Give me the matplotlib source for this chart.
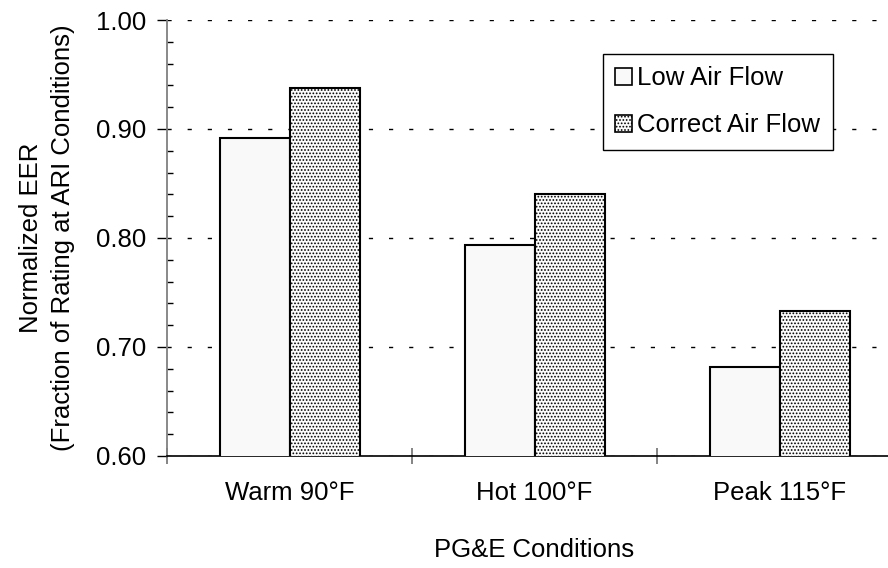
import numpy as np
import matplotlib.pyplot as plt
from matplotlib.ticker import MultipleLocator, FixedLocator, NullFormatter

plt.rcParams['font.family'] = ['Liberation Sans', 'DejaVu Sans']
plt.rcParams['lines.scale_dashes'] = False
plt.rcParams['hatch.color'] = '#b0b0b0'
plt.rcParams['hatch.linewidth'] = 0.8

conditions = ['Warm 90°F', 'Hot 100°F', 'Peak 115°F']
low_flow = [0.892, 0.794, 0.682]
correct_flow = [0.938, 0.840, 0.733]
series_names = ['Low Air Flow', 'Correct Air Flow']

FS = 18.5
W, H = 888, 568
fig = plt.figure(figsize=(W/100, H/100), dpi=100)
# plot area runs a little past the right edge of the image
ax = fig.add_axes([167/W, 1 - 456/H, (902 - 167)/W, (456 - 20)/H])

x = np.arange(len(conditions)) + 0.5
w = 1/3.5
ax.bar(x - w/2, low_flow, w, color='#f9f9f9', edgecolor='black',
       linewidth=1.5, label=series_names[0], zorder=3)
ax.bar(x + w/2, correct_flow, w, color='#fcfcfc', edgecolor='black',
       linewidth=1.5, hatch='.....', label=series_names[1], zorder=3)

ax.set_xlim(0, 3)
ax.set_ylim(0.6, 1.0)

# y axis: outward major ticks, inward minor ticks, dashed grid
ax.yaxis.set_major_locator(MultipleLocator(0.1))
ax.yaxis.set_minor_locator(MultipleLocator(0.02))
ax.yaxis.set_major_formatter(plt.FuncFormatter(lambda v, p: f'{v:.2f}'))
ax.tick_params(axis='y', which='major', direction='out', length=7, width=1,
               labelsize=FS, pad=8)
ax.tick_params(axis='y', which='minor', direction='in', length=4, width=1)
ax.grid(axis='y', which='major', color='black', linewidth=1,
        linestyle=(0, (3, 11.5)), zorder=0)

# x axis: crossing ticks between categories, labels in the middle
ax.xaxis.set_major_locator(FixedLocator([0, 1, 2, 3]))
ax.xaxis.set_major_formatter(NullFormatter())
ax.xaxis.set_minor_locator(FixedLocator(x))
ax.set_xticklabels(conditions, minor=True)
ax.tick_params(axis='x', which='major', direction='inout', length=12, width=1.2,
               color='#707070')
ax.tick_params(axis='x', which='minor', length=0, labelsize=FS, pad=18)

for side in ['top', 'right']:
    ax.spines[side].set_visible(False)
ax.spines['left'].set_color('#808080')
ax.spines['left'].set_linewidth(1.3)
ax.spines['bottom'].set_color('black')
ax.spines['bottom'].set_linewidth(1.2)

ax.set_ylabel('Normalized EER\n(Fraction of Rating at ARI Conditions)',
              fontsize=FS, labelpad=15, linespacing=1.45)
ax.set_xlabel('PG&E Conditions', fontsize=FS, labelpad=24)

leg = ax.legend(loc='upper left', bbox_to_anchor=(603/W, 1 - 54/H),
                bbox_transform=fig.transFigure, fontsize=FS, frameon=True,
                fancybox=False, edgecolor='black', framealpha=1,
                handlelength=0.65, handleheight=0.65, handletextpad=0.2,
                borderpad=0.48, labelspacing=0.9, borderaxespad=0)
leg.get_frame().set_linewidth(1.0)
for h in leg.legend_handles:
    h.set_linewidth(1.2)

fig.savefig('out.png', dpi=100)
